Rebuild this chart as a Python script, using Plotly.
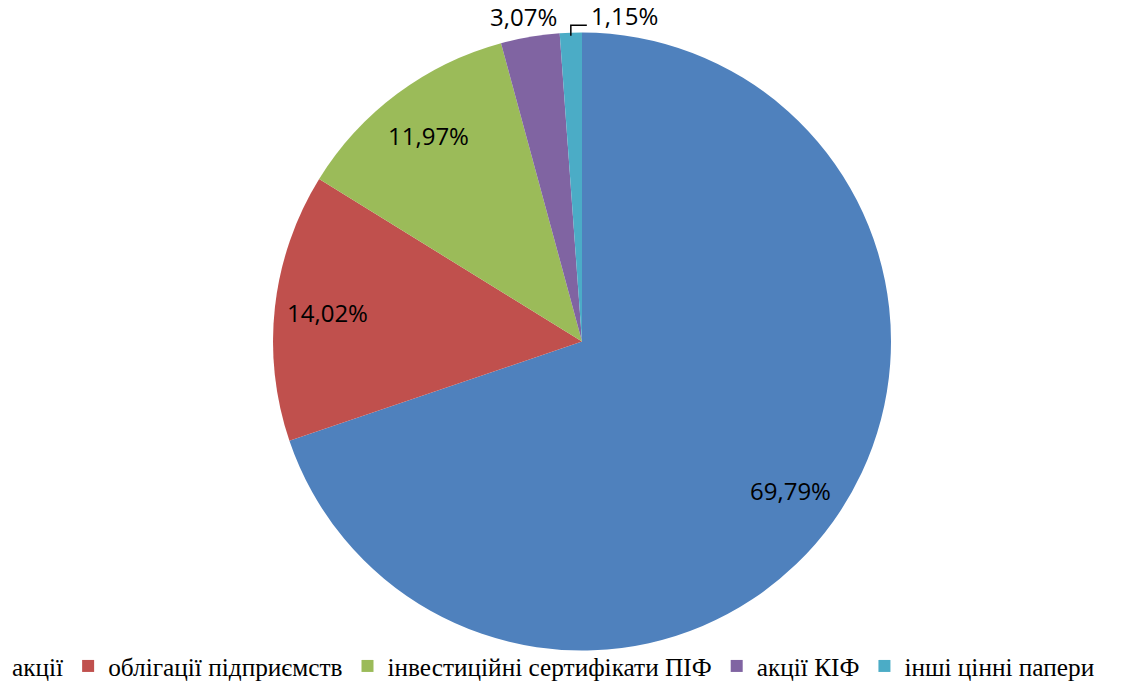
import math
import plotly.graph_objects as go

categories = ["акції", "облігації підприємств", "інвестиційні сертифікати ПІФ", "акції КІФ", "інші цінні папери"]
values = [69.79, 14.02, 11.97, 3.07, 1.15]
colors = ["#4F81BD", "#C0504D", "#9BBB59", "#8064A2", "#4BACC6"]
label_outside = [False, False, False, True, True]

W, H = 1139, 684
cx, cy, r = 582, 341.5, 309

fig = go.Figure(go.Pie(
    labels=categories,
    values=values,
    sort=False,
    direction="clockwise",
    rotation=0,
    marker=dict(colors=colors, line=dict(width=0)),
    textinfo="none",
    hoverinfo="label+percent",
    domain=dict(x=[(cx - r) / W, (cx + r) / W], y=[(H - cy - r) / H, (H - cy + r) / H]),
))

# data labels placed at each slice's mid-angle (derived from the values)
total = sum(values)
cum = 0.0
label_font = dict(family="Open Sans", size=24, color="#000000")
for v, outside in zip(values, label_outside):
    mid = (cum + v / 2) / total * 2 * math.pi  # clockwise from 12 o'clock
    cum += v
    txt = f"{v / total * 100:.2f}%".replace(".", ",")
    if not outside:
        k = 0.83
        px = cx + math.sin(mid) * r * k
        py = cy - math.cos(mid) * r * k
        fig.add_annotation(x=px / W, y=1 - py / H, xref="paper", yref="paper",
                           text=txt, showarrow=False, font=label_font,
                           xanchor="center", yanchor="middle")
    else:
        k = 1.06
        px = cx + math.sin(mid) * r * k
        py = cy - math.cos(mid) * r * k
        if v > 2:
            fig.add_annotation(x=(px - 4) / W, y=1 - (py - 2) / H, xref="paper", yref="paper",
                               text=txt, showarrow=False, font=label_font,
                               xanchor="center", yanchor="middle")
        else:
            # leader line from slice edge up and to the right
            ex = cx + math.sin(mid) * r
            ey = cy - math.cos(mid) * r + 3
            ly = py + 11
            lx = ex + 16
            fig.add_shape(type="path", xref="paper", yref="paper",
                          path=f"M {ex / W} {1 - ey / H} L {ex / W} {1 - ly / H} L {lx / W} {1 - ly / H}",
                          line=dict(color="#000000", width=1.5))
            fig.add_annotation(x=(lx + 2) / W, y=1 - (py + 1) / H, xref="paper", yref="paper",
                               text=txt, showarrow=False, font=label_font,
                               xanchor="left", yanchor="middle")

fig.update_layout(
    width=W, height=H,
    margin=dict(l=0, r=0, t=0, b=0, autoexpand=False),
    paper_bgcolor="white",
    plot_bgcolor="white",
    showlegend=True,
    legend=dict(
        orientation="h",
        x=-28 / W, xanchor="left",
        y=-5 / H, yanchor="bottom",
        font=dict(family="Liberation Serif", size=25.3, color="#000000"),
        itemwidth=30,
        tracegroupgap=0,
        traceorder="normal",
        bgcolor="rgba(0,0,0,0)",
    ),
)

fig.write_html("out.html", config={"displayModeBar": False},
               post_script="document.body.style.margin='0';")
